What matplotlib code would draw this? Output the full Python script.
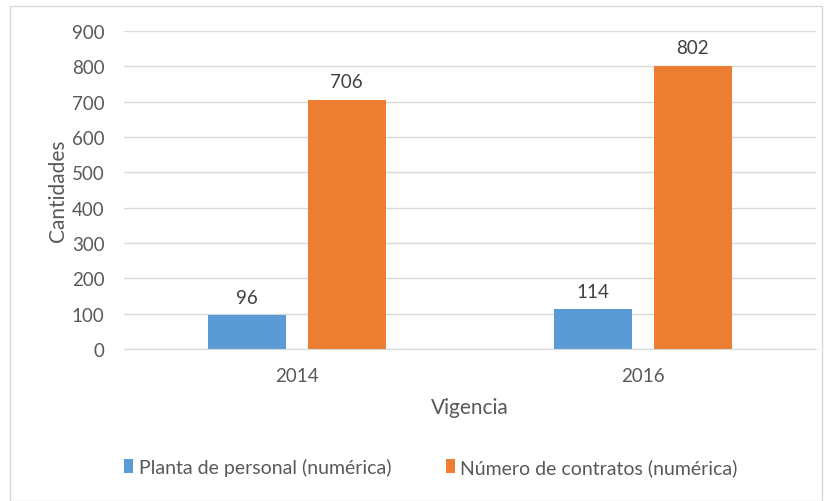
import matplotlib.pyplot as plt
from matplotlib.patches import Rectangle
import numpy as np

plt.rcParams['font.family'] = ['Lato', 'DejaVu Sans']

years = ['2014', '2016']
planta = [96, 114]
contratos = [706, 802]
series_names = ['Planta de personal (numérica)', 'Número de contratos (numérica)']
colors = ['#5B9BD5', '#ED7D31']
text_color = '#595959'

fig = plt.figure(figsize=(8.29, 5.02), dpi=100)
# outer chart border
fig.patches.append(Rectangle((10 / 829, 0.0), 812 / 829, 1 - 7 / 502,
                             transform=fig.transFigure, fill=False,
                             edgecolor='#D9D9D9', linewidth=1))
ax = fig.add_axes([124 / 829, 1 - 350 / 502, 692 / 829, 318 / 502])

x = np.arange(len(years))
w = 0.225
off = 0.1435
b1 = ax.bar(x - off, planta, w, color=colors[0], label=series_names[0])
b2 = ax.bar(x + off, contratos, w, color=colors[1], label=series_names[1])

for bars in (b1, b2):
    for r in bars:
        ax.text(r.get_x() + r.get_width() / 2, r.get_height() + 26,
                '%d' % r.get_height(), ha='center', va='bottom',
                fontsize=13.5, color='#404040')

ax.set_xlim(-0.5, 1.5)
ax.set_ylim(0, 900)
ax.set_yticks(range(0, 901, 100))
ax.set_xticks(x)
ax.set_xticklabels(years)
ax.grid(axis='y', color='#D9D9D9', linewidth=1)
ax.set_axisbelow(True)
for s in ['top', 'right', 'left']:
    ax.spines[s].set_visible(False)
ax.spines['bottom'].set_color('#D9D9D9')
ax.tick_params(axis='both', length=0, labelsize=13.5, colors=text_color)
ax.tick_params(axis='x', pad=13)
ax.tick_params(axis='y', pad=14)
ax.set_xlabel('Vigencia', fontsize=15, color=text_color, labelpad=9)
ax.set_ylabel('Cantidades', fontsize=15, color=text_color, labelpad=3)

fig.legend(loc='center', bbox_to_anchor=(431 / 829, 1 - 468 / 502), ncol=2,
           frameon=False, fontsize=14, labelcolor=text_color,
           handlelength=0.45, handleheight=0.75, handletextpad=0.3,
           columnspacing=2.8)

fig.savefig('out.png', dpi=100)
